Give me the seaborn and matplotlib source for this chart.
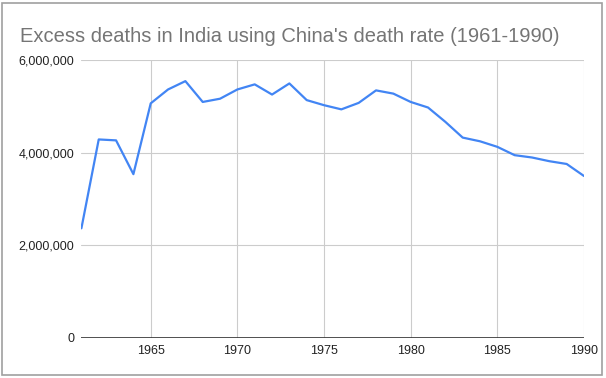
import numpy as np
import pandas as pd
import matplotlib.pyplot as plt
from matplotlib.patches import Rectangle
from matplotlib.ticker import FuncFormatter
import seaborn as sns

# data
years = list(range(1961, 1991))
excess_deaths = [2370000, 4290000, 4270000, 3540000, 5070000, 5370000, 5550000,
                 5100000, 5170000, 5370000, 5480000, 5260000, 5500000, 5140000,
                 5030000, 4940000, 5080000, 5350000, 5280000, 5100000, 4980000,
                 4670000, 4330000, 4250000, 4130000, 3950000, 3900000, 3820000,
                 3760000, 3500000]

df = pd.DataFrame({'Year': years, 'Deaths': excess_deaths})

sns.set_theme(style='white')
plt.rcParams['font.family'] = ['Liberation Sans', 'DejaVu Sans']

fig = plt.figure(figsize=(6.06, 3.78), dpi=100)
ax = fig.add_axes([81.4 / 606, 1 - 338 / 378, (584 - 81.4) / 606, (338 - 60.3) / 378])

sns.lineplot(data=df, x='Year', y='Deaths', ax=ax, color='#4285F4', linewidth=1.6)

ax.set_xlim(1961, 1990)
ax.set_ylim(0, 6000000)
ax.set_xticks([1965, 1970, 1975, 1980, 1985, 1990])
ax.set_yticks([0, 2000000, 4000000, 6000000])
ax.yaxis.set_major_formatter(FuncFormatter(lambda v, p: f'{int(v):,}'))
ax.grid(True, color='#cccccc', linewidth=0.8)
ax.set_axisbelow(True)
ax.axhline(0, color='#333333', linewidth=1.2, zorder=3)
for s in ax.spines.values():
    s.set_visible(False)
ax.tick_params(axis='both', length=0, labelsize=9, labelcolor='#222222')
ax.tick_params(axis='y', pad=5)
ax.tick_params(axis='x', pad=5)
ax.set_xlabel('')
ax.set_ylabel('')

fig.text(20 / 606, 1 - 42 / 378, "Excess deaths in India using China's death rate (1961-1990)",
         fontsize=14.5, color='#757575', ha='left', va='baseline')

# chart frame
fig.patches.append(Rectangle((2 / 606, 1 - 375 / 378), 600 / 606, 372 / 378,
                             transform=fig.transFigure, fill=False,
                             edgecolor='#a0a0a0', linewidth=1.2))

fig.savefig('out.png', dpi=100)
